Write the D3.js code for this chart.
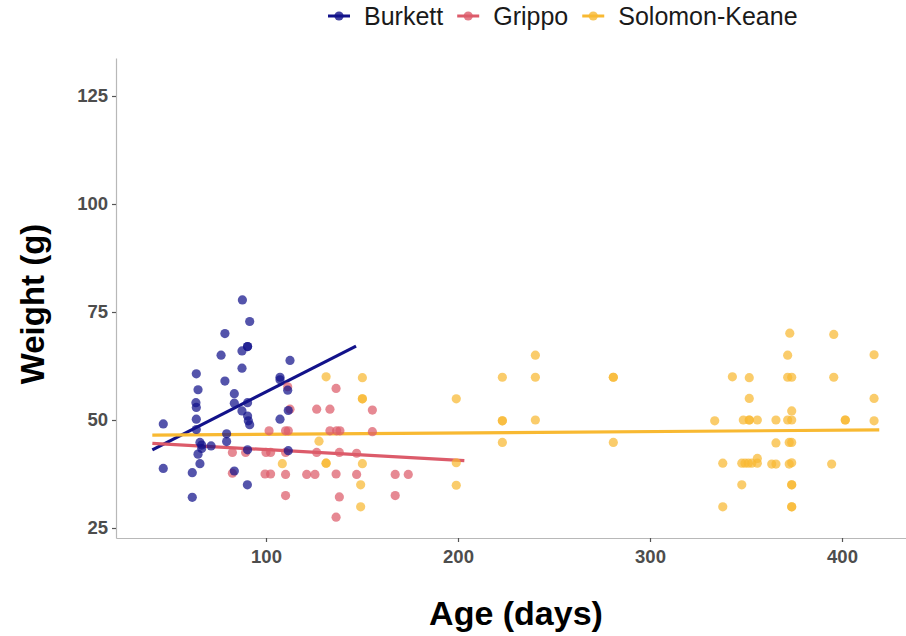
<!doctype html>
<html lang="en">
  <head>
    <meta charset="utf-8">
    <title>Weight by age</title>
    <script src="https://d3js.org/d3.v7.min.js"></script>
    <style>
      body { margin: 0; background: #fff; }
      svg text { font-family: "Liberation Sans", Arial, sans-serif; }
    </style>
  </head>
  <body>
    <div id="my_dataviz"></div>

    <script>
      // groups
      var groups = ["Burkett", "Grippo", "Solomon-Keane"];
      var colors = ["#12128a", "#dc5b6a", "#f8b932"];

      // Burkett
      var burkettAge = [87.7, 91.5, 78.6, 90.4, 90.4, 87.5, 76.6, 112.5, 87.5, 63.7, 107.3, 107.3, 78.6, 64.6, 111.3, 83.5, 63.5, 63.7, 83.5, 90.4, 111.6, 87.5, 90.4, 90.8, 91.5, 46.5, 107.3, 63.7, 63.7, 79.5, 79.5, 65.6, 66.5, 66.5, 71.4, 64.6, 90.4, 111.6, 65.6, 46.5, 61.6, 83.5, 90.3, 61.6];
      var burkettWeight = [77.8, 72.8, 70.0, 67.0, 67.0, 66.0, 65.0, 63.8, 62.0, 60.7, 59.9, 59.3, 59.0, 57.0, 56.9, 56.1, 54.0, 52.9, 53.9, 54.0, 52.2, 52.1, 50.9, 49.8, 48.9, 49.1, 50.2, 50.2, 47.8, 46.8, 45.0, 44.8, 44.2, 43.4, 44.0, 42.1, 43.1, 42.9, 39.9, 38.8, 37.8, 38.2, 35.0, 32.1];

      // Grippo
      var grippoAge = [136.5, 111.3, 126.4, 133.3, 112.5, 155.4, 101.6, 110.2, 111.6, 133.3, 136.8, 138.5, 155.4, 82.5, 89.4, 100.0, 102.4, 110.2, 126.4, 138.2, 147.2, 82.5, 99.5, 102.4, 110.2, 121.2, 125.5, 136.5, 147.2, 167.3, 174.1, 110.2, 138.2, 167.3, 136.5];
      var grippoWeight = [57.3, 57.7, 52.5, 52.5, 52.5, 52.3, 47.5, 47.5, 47.5, 47.5, 47.5, 47.5, 47.3, 42.5, 42.5, 42.5, 42.5, 42.5, 42.5, 42.5, 42.3, 37.7, 37.5, 37.5, 37.4, 37.4, 37.4, 37.5, 37.4, 37.4, 37.4, 32.5, 32.2, 32.5, 27.5];

      // Solomon-Keane
      var solomonAge = [131.3, 150.2, 150.2, 150.2, 199.1, 127.6, 131.3, 131.3, 150.2, 199.1, 149.3, 199.1, 149.3, 108.5,
        240.3, 223.1, 240.3, 280.9, 280.9, 223.1, 223.1, 240.3, 223.1, 280.9,
        372.8, 371.7, 342.9, 351.7, 371.7, 373.8, 351.7, 373.8, 333.7, 348.6, 351.7, 351.7, 355.9, 365.6, 371.7, 373.8, 365.6, 372.5, 373.8, 337.9, 347.8, 349.5, 351.2, 353.0, 355.9, 355.9, 363.4, 365.6, 372.5, 373.8, 347.8, 373.8, 373.8, 337.9, 373.8, 373.8,
        395.7, 416.7, 395.7, 416.7, 401.7, 401.7, 416.7, 394.6];
      var solomonWeight = [60.0, 59.8, 54.9, 54.9, 54.9, 45.1, 40.0, 40.0, 39.9, 40.1, 35.0, 34.9, 29.9, 39.9,
        65.0, 59.9, 59.9, 59.9, 59.9, 49.8, 49.8, 50.0, 44.8, 44.8,
        70.1, 65.0, 60.0, 59.8, 59.9, 59.9, 55.0, 52.1, 49.8, 50.0, 50.0, 50.0, 50.0, 50.0, 50.0, 50.0, 44.7, 44.8, 44.8, 40.0, 40.0, 40.0, 40.0, 40.0, 40.0, 41.1, 39.8, 39.8, 39.8, 40.1, 35.0, 35.0, 35.0, 29.9, 29.9, 29.9,
        69.8, 65.1, 59.9, 55.0, 50.0, 50.0, 49.8, 39.8];

      // fitted lines (start / end)
      var fitX0 = [40.8, 40.8, 40.8];
      var fitY0 = [43.1, 44.6, 46.5];
      var fitX1 = [146.9, 203.3, 419.4];
      var fitY1 = [67.1, 40.6, 47.7];

      var xTicks = [100, 200, 300, 400];
      var yTicks = [25, 50, 75, 100, 125];

      var ages = [burkettAge, grippoAge, solomonAge];
      var weights = [burkettWeight, grippoWeight, solomonWeight];

      var W = 906, H = 636;
      var margin = {left: 116, right: 906, top: 58, bottom: 538};

      var svg = d3.select("#my_dataviz")
        .append("svg")
          .attr("width", W)
          .attr("height", H);

      var x = d3.scaleLinear().domain([21.875, 433.33]).range([margin.left, margin.right]);
      var y = d3.scaleLinear().domain([22.685, 133.796]).range([margin.bottom, margin.top]);

      // axes
      var yAxis = svg.append("g")
        .attr("transform", "translate(" + margin.left + ",0)")
        .call(d3.axisLeft(y).tickValues(yTicks).tickSize(4).tickPadding(4).tickSizeOuter(0));
      var xAxis = svg.append("g")
        .attr("transform", "translate(0," + margin.bottom + ")")
        .call(d3.axisBottom(x).tickValues(xTicks).tickSize(4).tickPadding(8).tickSizeOuter(0));

      [xAxis, yAxis].forEach(function(a) {
        a.select(".domain").attr("stroke", "#b8b8b8").attr("stroke-width", 1.2);
        a.selectAll(".tick line").attr("stroke", "#555").attr("stroke-width", 1.2);
        a.selectAll(".tick text")
          .attr("fill", "#4d4d4d")
          .style("font-size", "18.5px")
          .style("font-weight", "bold");
      });

      // fitted lines first, points on top
      groups.forEach(function(g, i) {
        svg.append("line")
          .attr("x1", x(fitX0[i])).attr("y1", y(fitY0[i]))
          .attr("x2", x(fitX1[i])).attr("y2", y(fitY1[i]))
          .attr("stroke", colors[i])
          .attr("stroke-width", 3.2);
      });

      [2, 1, 0].forEach(function(i) {
        var pts = ages[i].map(function(a, k) { return {age: a, weight: weights[i][k]}; });
        svg.append("g").selectAll("circle")
          .data(pts)
          .enter().append("circle")
            .attr("cx", function(d) { return x(d.age); })
            .attr("cy", function(d) { return y(d.weight); })
            .attr("r", 4.6)
            .attr("fill", colors[i])
            .attr("fill-opacity", 0.72);
      });

      // axis titles
      svg.append("text")
        .attr("x", 516)
        .attr("y", 625)
        .attr("text-anchor", "middle")
        .style("font-size", "34px")
        .style("font-weight", "bold")
        .text("Age (days)");

      svg.append("text")
        .attr("transform", "translate(44,304) rotate(-90)")
        .attr("text-anchor", "middle")
        .style("font-size", "33px")
        .style("font-weight", "bold")
        .text("Weight (g)");

      // legend
      var lx = 328;
      groups.forEach(function(g, i) {
        var item = svg.append("g").attr("transform", "translate(" + lx + ",16)");
        item.append("line")
          .attr("x1", 0).attr("x2", 22)
          .attr("stroke", colors[i]).attr("stroke-width", 3);
        item.append("circle")
          .attr("cx", 11).attr("r", 4.6)
          .attr("fill", colors[i]).attr("fill-opacity", 0.8);
        var t = item.append("text")
          .attr("x", 36).attr("y", 9)
          .style("font-size", "25px")
          .attr("fill", "#1a1a1a")
          .text(g);
        lx += 36 + t.node().getComputedTextLength() + 14;
      });
    </script>
  </body>
</html>
